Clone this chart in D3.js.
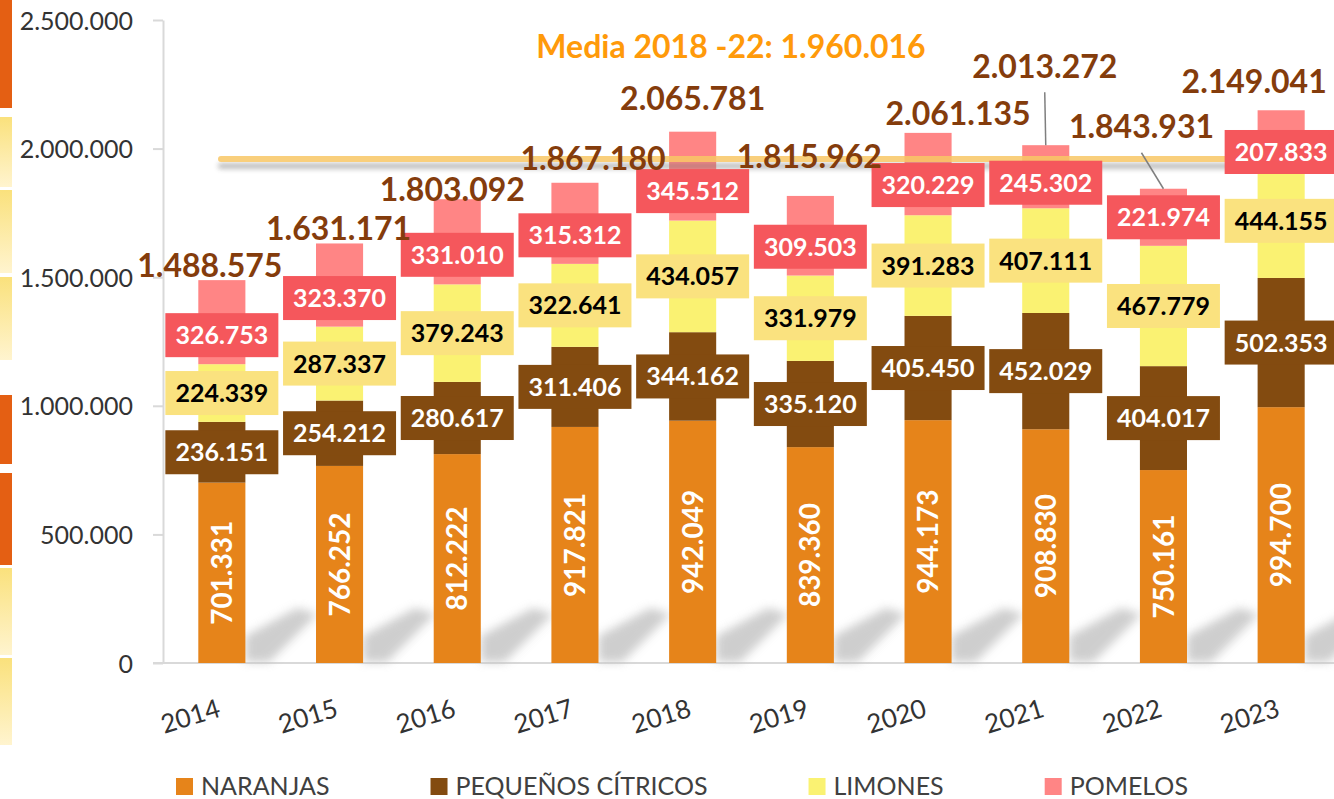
<!DOCTYPE html>
<html>
<head>
<meta charset="utf-8">
<script src="https://cdn.jsdelivr.net/npm/d3@7"></script>
<style>
body { margin: 0; background: #fff; }
svg { display: block; font-family: Lato, "Open Sans", sans-serif; }
</style>
</head>
<body>
<script>
const years = ["2014", "2015", "2016", "2017", "2018", "2019", "2020", "2021", "2022", "2023"];
const naranjas = [701331, 766252, 812222, 917821, 942049, 839360, 944173, 908830, 750161, 994700];
const pequenos = [236151, 254212, 280617, 311406, 344162, 335120, 405450, 452029, 404017, 502353];
const limones = [224339, 287337, 379243, 322641, 434057, 331979, 391283, 407111, 467779, 444155];
const pomelos = [326753, 323370, 331010, 315312, 345512, 309503, 320229, 245302, 221974, 207833];
const totals = [1488575, 1631171, 1803092, 1867180, 2065781, 1815962, 2061135, 2013272, 1843931, 2149041];
const seriesNames = ["NARANJAS", "PEQUEÑOS CÍTRICOS", "LIMONES", "POMELOS"];
const yTicks = [0, 500000, 1000000, 1500000, 2000000, 2500000];
const mediaValue = 1960016;
const mediaText = "Media 2018 -22: 1.960.016";

// hand placed labels in the original (pixel nudges)
const totalDx = [-12, -1, -5, 18, 0, -1, 30, -1, -22, -27];
const totalDy = [-15, -15, -10, -24, -33, -39, -19, -79, -62, -29];
const pomeloDy = [13, 13, 13, 12, 15, 11, 11, 6, 0, 15];

const W = 1334, H = 799;
const barColor = ["#E6841A", "#834B10", "#FAF272", "#FF8585"];
const boxColor = [null, "#834B10", "#FAE27F", "#F5575C"];
const boxText = [null, "#fff", "#000", "#fff"];

const fmt = d3.formatLocale({decimal: ",", thousands: ".", grouping: [3], currency: ["", ""]}).format(",d");

let svg = d3.select("body").append("svg")
	.attr("width", W)
	.attr("height", H);

let defs = svg.append("defs");
let grad = defs.append("linearGradient").attr("id", "yel").attr("x1", 0).attr("y1", 0).attr("x2", 0).attr("y2", 1);
grad.append("stop").attr("offset", "0%").attr("stop-color", "#FAE17C");
grad.append("stop").attr("offset", "100%").attr("stop-color", "#FFF4CF");
defs.append("filter").attr("id", "blur").attr("x", "-50%").attr("y", "-50%").attr("width", "200%").attr("height", "200%")
	.append("feGaussianBlur").attr("stdDeviation", 5);
let ls = defs.append("filter").attr("id", "lineShadow").attr("x", "-2%").attr("y", "-300%").attr("width", "104%").attr("height", "800%");
ls.append("feGaussianBlur").attr("in", "SourceAlpha").attr("stdDeviation", 2.5);
ls.append("feOffset").attr("dy", 7).attr("result", "o");
ls.append("feFlood").attr("flood-color", "#777").attr("flood-opacity", 0.55);
ls.append("feComposite").attr("in2", "o").attr("operator", "in");
let mg = ls.append("feMerge");
mg.append("feMergeNode");
mg.append("feMergeNode").attr("in", "SourceGraphic");

// decorative strips on the left edge
const strips = [[0, 108, "o"], [117, 187, "y"], [190, 273, "y"], [277, 360, "y"], [395, 464, "o"], [473, 565, "o"], [568, 655, "y"], [658, 745, "y"]];
svg.selectAll(".strip").data(strips).enter().append("rect")
	.attr("x", 0).attr("width", 12)
	.attr("y", d => d[0]).attr("height", d => d[1] - d[0])
	.attr("fill", d => d[2] == "o" ? "#E45F13" : "url(#yel)");

let x = d3.scaleBand().domain(years).range([163, 1340]).paddingInner(0.6).paddingOuter(0.3);
let y = d3.scaleLinear().domain([0, 2500000]).range([663, 20]);

let rows = years.map((yr, i) => ({year: yr, NARANJAS: naranjas[i], "PEQUEÑOS CÍTRICOS": pequenos[i], LIMONES: limones[i], POMELOS: pomelos[i]}));
let stacked = d3.stack().keys(seriesNames)(rows);

// axes
let yAxis = svg.append("g")
	.attr("transform", "translate(163,0)")
	.call(d3.axisLeft(y).tickValues(yTicks).tickFormat(fmt).tickSize(10).tickSizeOuter(0).tickPadding(20));
yAxis.select(".domain").attr("stroke", "#D9D9D9").attr("stroke-width", 2);
yAxis.selectAll(".tick line").attr("stroke", "#D9D9D9").attr("stroke-width", 2);
yAxis.selectAll(".tick text").attr("fill", "#333").style("font-size", "25px").style("font-family", "Lato").attr("dy", "0.36em");

svg.append("line")
	.attr("x1", 153).attr("x2", W).attr("y1", y(0)).attr("y2", y(0))
	.attr("stroke", "#D9D9D9").attr("stroke-width", 2);

// bar shadows
svg.append("g").selectAll("path").data(years).enter().append("path")
	.attr("d", d => {
		let x1 = x(d) + x.bandwidth();
		return "M" + x1 + "," + 662 + "L" + x1 + "," + 636 + "L" + (x1 + 52) + "," + 608 + "L" + (x1 + 72) + "," + 614 + "L" + (x1 + 24) + "," + 662 + "Z";
	})
	.attr("fill", "#c2c2c2")
	.attr("opacity", 0.8)
	.attr("filter", "url(#blur)");

// bars
svg.append("g").selectAll("g").data(stacked).enter().append("g")
	.attr("fill", (d, i) => barColor[i])
	.selectAll("rect").data(d => d).enter().append("rect")
	.attr("x", d => x(d.data.year))
	.attr("y", d => y(d[1]))
	.attr("width", x.bandwidth())
	.attr("height", d => y(d[0]) - y(d[1]));

// media line
svg.append("rect")
	.attr("x", 218).attr("width", W - 218 + 10)
	.attr("y", y(mediaValue) - 3).attr("height", 6).attr("rx", 3)
	.attr("fill", "#F8C766")
	.attr("opacity", 0.85)
	.attr("filter", "url(#lineShadow)");

svg.append("text")
	.attr("x", 731).attr("y", 58)
	.attr("text-anchor", "middle")
	.attr("fill", "#FF9A0A")
	.style("font-weight", "bold").style("font-size", "32px")
	.text(mediaText);

// naranjas labels, rotated inside bar
let first = stacked[0];
svg.append("g").selectAll("text").data(first).enter().append("text")
	.attr("transform", d => "translate(" + (x(d.data.year) + x.bandwidth() / 2) + "," + (y(d[0]) + y(d[1])) / 2 + ") rotate(-90)")
	.attr("text-anchor", "middle").attr("dy", "0.36em")
	.attr("fill", "#fff")
	.style("font-weight", "bold").style("font-size", "28px")
	.text(d => fmt(d[1] - d[0]));

// leader lines for labels moved far from their bar
svg.append("g").selectAll("line").data(years.filter((d, i) => totalDy[i] < -50)).enter().append("line")
	.attr("x1", d => x(d) + x.bandwidth() / 2 + totalDx[years.indexOf(d)])
	.attr("y1", d => y(totals[years.indexOf(d)]) + totalDy[years.indexOf(d)] + 26)
	.attr("x2", d => x(d) + x.bandwidth() / 2)
	.attr("y2", d => y(totals[years.indexOf(d)]))
	.attr("stroke", "#7F7F7F").attr("stroke-width", 1.5);

// boxed labels
for (let s = 1; s < 4; s++) {
	let g = svg.append("g").selectAll("g").data(stacked[s]).enter().append("g")
		.attr("transform", (d, i) => {
			let cx = x(d.data.year) + x.bandwidth() / 2;
			let cy = (y(d[0]) + y(d[1])) / 2 + (s == 3 ? pomeloDy[i] : 0);
			return "translate(" + cx + "," + cy + ")";
		});
	g.append("rect")
		.attr("x", -56.5).attr("y", -22).attr("width", 113).attr("height", 44)
		.attr("fill", boxColor[s]);
	g.append("text")
		.attr("text-anchor", "middle").attr("dy", "0.36em")
		.attr("fill", boxText[s])
		.style("font-weight", "bold").style("font-size", "25px")
		.text(d => fmt(d[1] - d[0]));
}

// totals
svg.append("g").selectAll("text").data(years).enter().append("text")
	.attr("x", (d, i) => x(d) + x.bandwidth() / 2 + totalDx[i])
	.attr("y", (d, i) => y(totals[i]) + totalDy[i])
	.attr("dy", "0.36em")
	.attr("text-anchor", "middle")
	.attr("fill", "#843C0C")
	.style("font-weight", "bold").style("font-size", "32px")
	.text((d, i) => fmt(totals[i]));

// year labels
svg.append("g").selectAll("text").data(years).enter().append("text")
	.attr("transform", d => "translate(" + (x(d) + x.bandwidth() / 2) + ",716) rotate(-17)")
	.attr("text-anchor", "end")
	.attr("fill", "#333")
	.style("font-size", "26px")
	.text(d => d);

// legend
let lx = 176;
seriesNames.forEach((name, i) => {
	svg.append("rect").attr("x", lx).attr("y", 778).attr("width", 17).attr("height", 17).attr("fill", barColor[i]);
	let t = svg.append("text").attr("x", lx + 25).attr("y", 795)
		.attr("fill", "#404040").style("font-size", "25px").text(name);
	lx += 25 + t.node().getComputedTextLength() + 101;
});
</script>
</body>
</html>
